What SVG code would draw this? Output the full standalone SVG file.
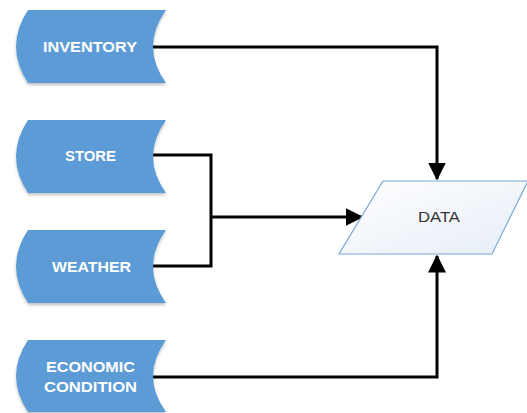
<svg xmlns="http://www.w3.org/2000/svg" width="527" height="413" viewBox="0 0 527 413">
<style>
.store{fill:#5B9BD5;filter:url(#sh)}
.lbl{font-family:"Liberation Sans",Arial,sans-serif;font-weight:bold;font-size:14px;fill:#ffffff;text-anchor:middle}
.conn{fill:none;stroke:#000;stroke-width:3}
.data{fill:url(#g);stroke:#7BA7D2;stroke-width:1.2}
.dlbl{font-family:"Liberation Sans",Arial,sans-serif;font-size:14px;fill:#333;text-anchor:middle}
</style>
<defs>
<filter id="sh" x="-10%" y="-10%" width="120%" height="130%">
<feGaussianBlur in="SourceAlpha" stdDeviation="1.5"/>
<feOffset dx="0" dy="1.5"/>
<feComponentTransfer><feFuncA type="linear" slope="0.25"/></feComponentTransfer>
<feMerge><feMergeNode/><feMergeNode in="SourceGraphic"/></feMerge>
</filter>
<linearGradient id="g" x1="0" y1="0" x2="1" y2="1">
<stop offset="0" stop-color="#ffffff"/>
<stop offset="1" stop-color="#e6edf7"/>
</linearGradient>
<marker id="ah" markerWidth="6" markerHeight="6" refX="5.5" refY="3" orient="auto" markerUnits="strokeWidth">
<path d="M0,0 L6,3 L0,6 Z" fill="#000"/>
</marker>
</defs>
<g id="connectors">
<polyline class="conn" points="153,47 437,47 437,179" marker-end="url(#ah)"/>
<polyline class="conn" points="153,155 211,155 211,266 153,266"/>
<polyline class="conn" points="211,217 362,217" marker-end="url(#ah)"/>
<polyline class="conn" points="153,377 437,377 437,256" marker-end="url(#ah)"/>
</g>
<g id="inventory">
<path class="store" d="M28,10 L166,10 Q140,46.5 166,83 L28,83 Q4,46.5 28,10 Z"/>
<text class="lbl" x="90" y="52" textLength="94" lengthAdjust="spacingAndGlyphs">INVENTORY</text>
</g>
<g id="store">
<path class="store" d="M28,120 L166,120 Q140,156.5 166,193 L28,193 Q4,156.5 28,120 Z"/>
<text class="lbl" x="90.5" y="161" textLength="51" lengthAdjust="spacingAndGlyphs">STORE</text>
</g>
<g id="weather">
<path class="store" d="M28,230 L166,230 Q140,266.5 166,303 L28,303 Q4,266.5 28,230 Z"/>
<text class="lbl" x="91.5" y="272" textLength="79" lengthAdjust="spacingAndGlyphs">WEATHER</text>
</g>
<g id="economic">
<path class="store" d="M28,340 L166,340 Q140,376 166,412 L28,412 Q4,376 28,340 Z"/>
<text class="lbl" x="90.5" y="372" textLength="89" lengthAdjust="spacingAndGlyphs">ECONOMIC</text>
<text class="lbl" x="90.5" y="391.5" textLength="93" lengthAdjust="spacingAndGlyphs">CONDITION</text>
</g>
<g id="data">
<path class="data" d="M383,181 L528,181 L492,254 L339,254 Z"/>
<text class="dlbl" x="439" y="221.5" textLength="42" lengthAdjust="spacingAndGlyphs">DATA</text>
</g>
</svg>
